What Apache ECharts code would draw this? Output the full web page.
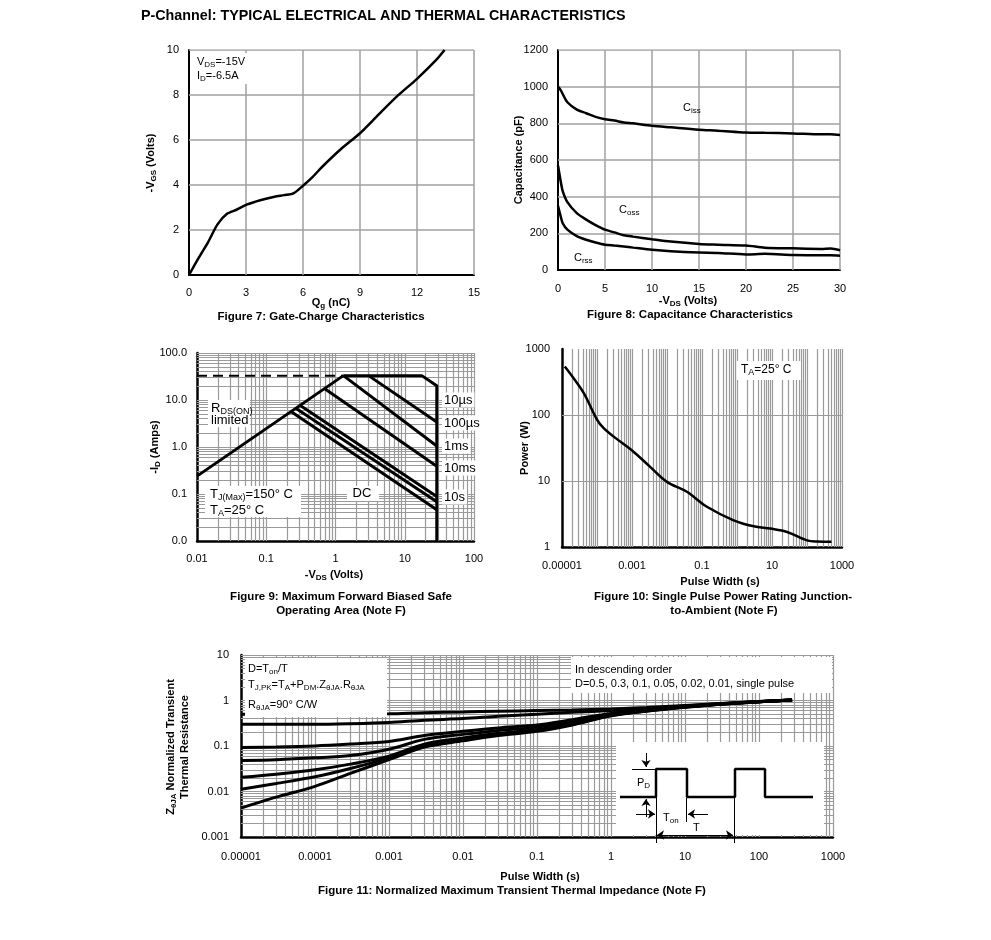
<!DOCTYPE html>
<html><head><meta charset="utf-8">
<script src="https://cdn.jsdelivr.net/npm/echarts@6/dist/echarts.min.js"></script>
<style>html,body{margin:0;padding:0;background:#fff}#c{width:991px;height:940px}</style>
</head><body><div id="c"></div>
<script>
// ---------- Figure 7: gate charge ----------
const qg  = [0,0.5,1,1.5,2,2.5,3,3.5,4,4.5,5,5.5,6,6.5,7,8,9,10,11,12,13,13.45];
const vgs = [0,0.75,1.45,2.25,2.72,2.9,3.12,3.26,3.38,3.48,3.55,3.63,3.97,4.35,4.8,5.6,6.3,7.15,7.98,8.72,9.55,10];
// ---------- Figure 8: capacitance ----------
const vds  = [0,0.3,0.5,1,2,3,4,5,6,7,8,10,12,15,17,20,22,25,28,29,30];
const ciss = [1000,980,960,915,875,855,835,822,815,805,800,787,778,765,760,750,748,745,740,740,737];
const coss = [570,480,430,370,310,275,245,220,205,190,182,168,155,142,138,133,122,118,115,117,108];
const crss = [350,290,255,220,185,165,150,138,133,128,122,110,102,95,93,85,88,82,80,80,78];
// ---------- Figure 9: SOA ----------
const soaRds    = [[0.01,0.24],[1.3,33]];
const soaLimit  = [[1.3,33],[17.6,33],[29,20],[29,0.01]];
const soaDashed = [[0.01,33],[1.3,33]];
const soa10us   = [[3,33],[29,3.4]];
const soa100us  = [[1.3,33],[29,1.05]];
const soa1ms    = [[0.7,17.3],[29,0.39]];
const soa10ms   = [[0.31,7.6],[29,0.088]];
const soa10s    = [[0.27,6.6],[29,0.068]];
const soaDC     = [[0.23,5.6],[29,0.046]];
// ---------- Figure 10: single pulse power ----------
const pw  = [1.2e-5,2e-5,4.2e-5,1e-4,1.55e-4,3e-4,1.1e-3,3.3e-3,0.01,0.037,0.138,0.8,3,9,27,100,195,500];
const ppk = [545,380,214,85,63,47,27.8,16.4,9.7,6.86,4.07,2.54,2.06,1.9,1.69,1.26,1.21,1.2];
// ---------- Figure 11: transient thermal impedance ----------
const zt = [1e-5,3e-5,1e-4,3e-4,1e-3,3e-3,1e-2,3e-2,0.1,0.3,1,3,10,30,100,280];
const zD05  = [0.5,0.5,0.5,0.5,0.51,0.54,0.56,0.58,0.6,0.62,0.65,0.7,0.78,0.86,0.95,1.03];
const zD03  = [0.30,0.30,0.30,0.31,0.33,0.37,0.40,0.45,0.50,0.55,0.60,0.66,0.76,0.85,0.95,1.03];
const zD01  = [0.093,0.095,0.10,0.11,0.125,0.17,0.21,0.25,0.29,0.38,0.52,0.62,0.74,0.84,0.94,1.03];
const zD005 = [0.048,0.05,0.055,0.062,0.085,0.14,0.18,0.22,0.26,0.34,0.50,0.61,0.73,0.84,0.94,1.03];
const zD002 = [0.0205,0.024,0.03,0.04,0.06,0.11,0.15,0.19,0.23,0.31,0.48,0.60,0.72,0.83,0.94,1.03];
const zD001 = [0.0112,0.015,0.021,0.032,0.055,0.10,0.14,0.18,0.22,0.30,0.47,0.59,0.72,0.83,0.94,1.03];
const zSingle = [0.0043,0.0075,0.013,0.025,0.05,0.095,0.13,0.17,0.21,0.29,0.46,0.58,0.71,0.83,0.94,1.03];
// ---------- Tick labels ----------
const fig9XLabels  = ['0.01','0.1','1','10','100'];
const fig9YLabels  = ['0.0','0.1','1.0','10.0','100.0'];
const fig10XLabels = ['0.00001','','0.001','','0.1','','10','','1000'];
const fig10YLabels = ['1','10','100','1000'];
const fig11XLabels = ['0.00001','0.0001','0.001','0.01','0.1','1','10','100','1000'];
const fig11YLabels = ['0.001','0.01','0.1','1','10'];
// ---------- Inset pulse schematic (own hidden axes) ----------
const pulseWave = [[4,49],[40,49],[40,77],[71,77],[71,49],[119,49],[119,77],[149,77],[149,49],[197,49]];
const insetPlain = [[[16,77],[40,77]],[[70,48],[70,24]],[[40,49],[40,3]],[[118,49],[118,3]]];
const insetArrow = [[[30,93],[30,79]],[[30,29],[30,47]],[[20,32],[39,32]],[[92,32],[72,32]]];
const insetDouble = [[[41,11],[117,11]]];

const FF = '"Liberation Sans", Arial, Helvetica, sans-serif';
const GRAY = '#a0a0a0';
const LOGGRAY = '#9a9a9a';

function logLines(e0, e1) {
  const a = [];
  for (let e = e0; e < e1; e++) for (let m = 1; m <= 9; m++) a.push(+(m * Math.pow(10, e)).toPrecision(6));
  a.push(Math.pow(10, e1));
  return a.slice(1);
}
function gridSeries(idx, xs, ys, ext, width, color) {
  const [x0, x1, y0, y1] = ext;
  return {
    type: 'lines', coordinateSystem: 'cartesian2d', xAxisIndex: idx, yAxisIndex: idx, silent: true, z: 1,
    symbol: ['none', 'none'], lineStyle: {color: color || GRAY, width: width, opacity: 1, curveness: 0},
    data: xs.map(x => ({coords: [[x, y0], [x, y1]]})).concat(ys.map(y => ({coords: [[x0, y], [x1, y]]})))
  };
}
const lbl = (margin, fmt) => ({fontSize: 11, color: '#000', fontFamily: FF, margin: margin, formatter: fmt});
const axLine = w => ({show: true, onZero: false, lineStyle: {color: '#000', width: w}});
function logFmt(labels, e0) { return v => { const i = Math.round(Math.log10(v)) - e0; return labels[i] !== undefined ? labels[i] : ''; }; }
function valAxis(gi, min, max, interval, margin, w) {
  return {gridIndex: gi, type: 'value', min, max, interval, axisLine: axLine(w), axisTick: {show: false},
          splitLine: {show: false}, axisLabel: lbl(margin, v => String(v))};
}
function logAxis(gi, min, max, margin, w, labels, e0) {
  return {gridIndex: gi, type: 'log', logBase: 10, min, max, axisLine: axLine(w), axisTick: {show: false},
          splitLine: {show: false}, minorSplitLine: {show: false}, axisLabel: lbl(margin, logFmt(labels, e0))};
}
function curve(idx, data, w, extra) {
  return Object.assign({type: 'line', xAxisIndex: idx, yAxisIndex: idx, data, symbol: 'none', showSymbol: false,
    lineStyle: {color: '#000', width: w}, z: 3, silent: true}, extra || {});
}
const zip = (xs, ys) => xs.map((x, i) => [x, ys[i]]);

function R(size, bold) {
  const fw = bold ? 'bold' : 'normal';
  const ss = Math.round(size * 0.72);
  return {
    n: {fontSize: size, fontFamily: FF, fontWeight: fw, fill: '#000', lineHeight: size + 3},
    s: {fontSize: ss, fontFamily: FF, fontWeight: fw, fill: '#000', lineHeight: ss, verticalAlign: 'bottom'}
  };
}
function T(x, y, text, o) {
  o = o || {};
  const size = o.size || 11;
  const fw = o.bold ? 'bold' : 'normal';
  const st = {text: text, fill: '#000', font: fw + ' ' + size + 'px ' + FF, fontSize: size, fontFamily: FF, fontWeight: fw,
              align: o.align || 'left', verticalAlign: 'middle', rich: R(size, o.bold)};
  if (o.bg) { st.backgroundColor = '#fff'; st.padding = o.pad || [1, 2]; }
  return {type: 'text', x: x, y: y, z: 20, rotation: o.rot || 0, silent: true, style: st};
}
function box(x, y, w, h) {
  return {type: 'rect', shape: {x, y, width: w, height: h}, style: {fill: '#fff'}, z: 10, silent: true};
}

const chart = echarts.init(document.getElementById('c'), null, {renderer: 'canvas'});
const option = {
  animation: false,
  backgroundColor: '#fff',
  textStyle: {fontFamily: FF},
  grid: [
    {left: 189, top: 50, width: 285, height: 225},
    {left: 558, top: 50, width: 282, height: 220},
    {left: 197, top: 353, width: 277, height: 188},
    {left: 562, top: 349, width: 280, height: 198},
    {left: 241, top: 655, width: 592, height: 182},
    {left: 616, top: 742, width: 210, height: 104}
  ],
  xAxis: [
    valAxis(0, 0, 15, 3, 12, 2),
    valAxis(1, 0, 30, 5, 13, 2),
    logAxis(2, 0.01, 100, 12, 2.5, fig9XLabels, -2),
    logAxis(3, 0.00001, 1000, 13, 2.5, fig10XLabels, -5),
    logAxis(4, 0.00001, 1000, 14, 2.5, fig11XLabels, -5),
    {gridIndex: 5, type: 'value', min: 0, max: 210, show: false}
  ],
  yAxis: [
    valAxis(0, 0, 10, 2, 10, 2),
    valAxis(1, 0, 1200, 200, 10, 2),
    logAxis(2, 0.01, 100, 10, 2.5, fig9YLabels, -2),
    logAxis(3, 1, 1000, 12, 2.5, fig10YLabels, 0),
    logAxis(4, 0.001, 10, 12, 2.5, fig11YLabels, -3),
    {gridIndex: 5, type: 'value', min: 0, max: 104, show: false}
  ],
  series: [
    gridSeries(0, [3,6,9,12,15], [2,4,6,8,10], [0,15,0,10], 1.5),
    gridSeries(1, [5,10,15,20,25,30], [200,400,600,800,1000,1200], [0,30,0,1200], 1.5),
    gridSeries(2, logLines(-2, 2), logLines(-2, 2), [0.01,100,0.01,100], 1.2, LOGGRAY),
    gridSeries(3, logLines(-5, 3), [10, 100], [0.00001,1000,1,1000], 1.2, LOGGRAY),
    gridSeries(4, logLines(-5, 3), logLines(-3, 1), [0.00001,1000,0.001,10], 1.2, LOGGRAY),
    curve(0, zip(qg, vgs), 2.5, {smooth: 0.25}),
    curve(1, zip(vds, ciss), 2.5, {smooth: 0.3}),
    curve(1, zip(vds, coss), 2.5, {smooth: 0.3}),
    curve(1, zip(vds, crss), 2.5, {smooth: 0.3}),
    curve(2, soaRds, 3),
    curve(2, soaLimit, 3),
    curve(2, soaDashed, 2, {lineStyle: {color: '#000', width: 2, type: [10, 6]}}),
    curve(2, soa10us, 3),
    curve(2, soa100us, 3),
    curve(2, soa1ms, 3),
    curve(2, soa10ms, 3),
    curve(2, soa10s, 3),
    curve(2, soaDC, 3),
    curve(3, zip(pw, ppk), 2.5, {smooth: 0.35}),
    curve(4, zip(zt, zD05), 3, {smooth: 0.3}),
    curve(4, zip(zt, zD03), 3, {smooth: 0.3}),
    curve(4, zip(zt, zD01), 3, {smooth: 0.3}),
    curve(4, zip(zt, zD005), 3, {smooth: 0.3}),
    curve(4, zip(zt, zD002), 3, {smooth: 0.3}),
    curve(4, zip(zt, zD001), 3, {smooth: 0.3}),
    curve(4, zip(zt, zSingle), 3, {smooth: 0.3}),
    Object.assign(curve(5, pulseWave, 2.5), {z: 12}),
    {type: 'lines', coordinateSystem: 'cartesian2d', xAxisIndex: 5, yAxisIndex: 5, z: 12, silent: true,
     symbol: ['none', 'none'], lineStyle: {color: '#000', width: 1, opacity: 1, curveness: 0},
     data: insetPlain.map(c => ({coords: c}))},
    {type: 'lines', coordinateSystem: 'cartesian2d', xAxisIndex: 5, yAxisIndex: 5, z: 12, silent: true,
     symbol: ['none', 'arrow'], symbolSize: 7, lineStyle: {color: '#000', width: 1, opacity: 1, curveness: 0},
     data: insetArrow.map(c => ({coords: c}))},
    {type: 'lines', coordinateSystem: 'cartesian2d', xAxisIndex: 5, yAxisIndex: 5, z: 12, silent: true,
     symbol: ['arrow', 'arrow'], symbolSize: 7, lineStyle: {color: '#000', width: 1, opacity: 1, curveness: 0},
     data: insetDouble.map(c => ({coords: c}))}
  ],
  graphic: [
    box(194, 53, 56, 31),
    box(208, 400, 42, 27),
    box(205, 486, 96, 31),
    box(347, 486, 32, 15),
    box(737, 361, 64, 19),
    box(245, 658, 142, 59),
    box(571, 657, 261, 36),
    box(616, 742, 208, 93),
    T(141, 16, 'P-Channel: TYPICAL ELECTRICAL AND THERMAL CHARACTERISTICS', {size: 14.3, bold: true}),
    // fig 7
    T(197, 62, '{n|V}{s|DS}{n|=-15V}'),
    T(197, 76, '{n|I}{s|D}{n|=-6.5A}'),
    T(331, 303, '{n|Q}{s|g}{n| (nC)}', {bold: true, align: 'center'}),
    T(151, 163, '{n|-V}{s|GS}{n| (Volts)}', {bold: true, align: 'center', rot: Math.PI / 2}),
    T(321, 317, 'Figure 7: Gate-Charge Characteristics', {bold: true, align: 'center', size: 11.5}),
    // fig 8
    T(683, 108, '{n|C}{s|iss}'),
    T(619, 210, '{n|C}{s|oss}'),
    T(574, 258, '{n|C}{s|rss}'),
    T(688, 301, '{n|-V}{s|DS}{n| (Volts)}', {bold: true, align: 'center'}),
    T(519, 160, 'Capacitance (pF)', {bold: true, align: 'center', rot: Math.PI / 2}),
    T(690, 315, 'Figure 8: Capacitance Characteristics', {bold: true, align: 'center', size: 11.5}),
    // fig 9
    T(211, 408, '{n|R}{s|DS(ON)}', {size: 13}),
    T(211, 420, 'limited', {size: 13}),
    T(210, 494, '{n|T}{s|J(Max)}{n|=150° C}', {size: 13}),
    T(210, 510, '{n|T}{s|A}{n|=25° C}', {size: 13}),
    T(362, 493, 'DC', {size: 13, align: 'center'}),
    T(442, 400, '10µs', {size: 13, bg: true}),
    T(442, 423, '100µs', {size: 13, bg: true}),
    T(442, 446, '1ms', {size: 13, bg: true}),
    T(442, 468, '10ms', {size: 13, bg: true}),
    T(442, 497, '10s', {size: 13, bg: true}),
    T(334, 575, '{n|-V}{s|DS}{n| (Volts)}', {bold: true, align: 'center'}),
    T(155, 447, '{n|-I}{s|D}{n| (Amps)}', {bold: true, align: 'center', rot: Math.PI / 2}),
    T(341, 597, 'Figure 9: Maximum Forward Biased Safe', {bold: true, align: 'center', size: 11.5}),
    T(341, 611, 'Operating Area (Note F)', {bold: true, align: 'center', size: 11.5}),
    // fig 10
    T(741, 370, '{n|T}{s|A}{n|=25° C}', {size: 12}),
    T(720, 582, 'Pulse Width (s)', {bold: true, align: 'center'}),
    T(525, 448, 'Power (W)', {bold: true, align: 'center', rot: Math.PI / 2}),
    T(723, 597, 'Figure 10: Single Pulse Power Rating Junction-', {bold: true, align: 'center', size: 11.5}),
    T(724, 611, 'to-Ambient (Note F)', {bold: true, align: 'center', size: 11.5}),
    // fig 11
    T(248, 669, '{n|D=T}{s|on}{n|/T}'),
    T(248, 685, '{n|T}{s|J,PK}{n|=T}{s|A}{n|+P}{s|DM}{n|.Z}{s|θJA}{n|.R}{s|θJA}'),
    T(248, 705, '{n|R}{s|θJA}{n|=90° C/W}'),
    T(575, 670, 'In descending order'),
    T(575, 684, 'D=0.5, 0.3, 0.1, 0.05, 0.02, 0.01, single pulse'),
    T(637, 783, '{n|P}{s|D}'),
    T(663, 818, '{n|T}{s|on}'),
    T(693, 828, 'T'),
    T(540, 877, 'Pulse Width (s)', {bold: true, align: 'center'}),
    T(178, 747, '{n|Z}{s|θJA}{n| Normalized Transient}\n{n|Thermal Resistance}', {bold: true, align: 'center', rot: Math.PI / 2}),
    T(512, 891, 'Figure 11: Normalized Maximum Transient Thermal Impedance (Note F)', {bold: true, align: 'center', size: 11.5})
  ]
};
chart.setOption(option);
</script>
</body></html>
